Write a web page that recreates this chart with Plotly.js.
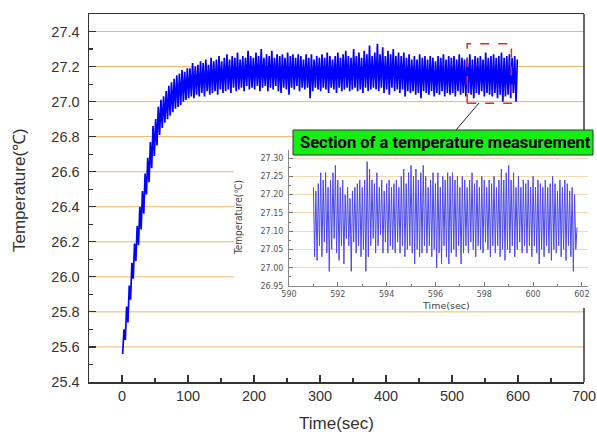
<!DOCTYPE html>
<html>
<head>
<meta charset="utf-8">
<script src="https://cdn.plot.ly/plotly-3.0.1.min.js"></script>
<style>html,body{margin:0;padding:0;background:#fff;}#chart{width:597px;height:432px;}</style>
</head>
<body>
<div id="chart"></div>
<script>
// ---- Main series: temperature every 2 s from t = 1 s ----
var mainStart = 1;
var mainStep = 2;
var mainTemp = [
  25.56, 25.70, 25.64, 25.83, 25.74, 25.95, 25.87, 26.08, 25.99, 26.19,
  26.09, 26.29, 26.18, 26.40, 26.27, 26.49, 26.36, 26.59, 26.47, 26.68,
  26.54, 26.77, 26.62, 26.86, 26.69, 26.90, 26.75, 26.97, 26.81, 27.01,
  26.85, 27.03, 26.88, 27.06, 26.90, 27.09, 26.92, 27.11, 26.94, 27.13,
  26.96, 27.15, 26.97, 27.16, 26.98, 27.18, 27.00, 27.17, 27.01, 27.19,
  27.02, 27.19, 27.03, 27.22, 27.02, 27.20, 27.04, 27.21, 27.03, 27.23,
  27.05, 27.22, 27.03, 27.24, 27.06, 27.21, 27.04, 27.25, 27.05, 27.23,
  27.06, 27.24, 27.04, 27.26, 27.07, 27.23, 27.05, 27.25, 27.06, 27.27,
  27.07, 27.24, 27.05, 27.26, 27.08, 27.25, 27.06, 27.28, 27.07, 27.24,
  27.08, 27.26, 27.06, 27.25, 27.09, 27.29, 27.07, 27.26, 27.08, 27.25,
  27.07, 27.28, 27.09, 27.26, 27.06, 27.30, 27.08, 27.25, 27.09, 27.27,
  27.06, 27.26, 27.08, 27.29, 27.07, 27.25, 27.09, 27.27, 27.06, 27.26,
  27.05, 27.27, 27.08, 27.25, 27.07, 27.28, 27.04, 27.26, 27.08, 27.27,
  27.07, 27.25, 27.09, 27.27, 27.06, 27.26, 27.08, 27.24, 27.07, 27.27,
  27.08, 27.25, 27.02, 27.27, 27.06, 27.24, 27.08, 27.26, 27.07, 27.25,
  27.06, 27.27, 27.08, 27.25, 27.07, 27.28, 27.05, 27.26, 27.08, 27.24,
  27.07, 27.26, 27.05, 27.28, 27.08, 27.25, 27.06, 27.27, 27.07, 27.29,
  27.08, 27.26, 27.06, 27.25, 27.07, 27.30, 27.08, 27.26, 27.06, 27.28,
  27.07, 27.25, 27.05, 27.29, 27.08, 27.27, 27.06, 27.32, 27.07, 27.26,
  27.08, 27.28, 27.07, 27.33, 27.06, 27.27, 27.08, 27.31, 27.05, 27.26,
  27.07, 27.29, 27.04, 27.27, 27.08, 27.30, 27.06, 27.26, 27.07, 27.28,
  27.05, 27.26, 27.07, 27.28, 27.03, 27.25, 27.06, 27.27, 27.05, 27.24,
  27.06, 27.26, 27.04, 27.24, 27.05, 27.27, 27.02, 27.25, 27.06, 27.26,
  27.05, 27.24, 27.04, 27.26, 27.06, 27.25, 27.03, 27.23, 27.05, 27.26,
  27.04, 27.25, 27.06, 27.27, 27.03, 27.24, 27.05, 27.26, 27.04, 27.25,
  27.05, 27.26, 27.03, 27.24, 27.06, 27.27, 27.04, 27.25, 27.05, 27.24,
  27.03, 27.25, 27.05, 27.27, 27.04, 27.24, 27.02, 27.26, 27.05, 27.25,
  27.04, 27.26, 27.06, 27.24, 27.03, 27.28, 27.05, 27.25, 27.04, 27.26,
  27.03, 27.27, 27.05, 27.25, 27.02, 27.26, 27.04, 27.28, 27.00, 27.25,
  27.03, 27.26, 27.04, 27.27, 27.02, 27.25, 27.05, 27.26, 27.00, 27.24
];

// ---- Inset series: section 591.00 – 601.80 s, every 0.05 s ----
var insetStart = 591.0;
var insetStep = 0.05;
var insetTemp = [
  27.22, 27.03, 27.21, 27.02, 27.23, 27.06, 27.26, 27.03, 27.24, 27.07, 27.26, 27.04, 27.22, 26.99, 27.24, 27.05, 27.26, 27.08, 27.28, 27.04,
  27.24, 27.02, 27.22, 27.06, 27.24, 27.01, 27.20, 27.08, 27.22, 27.06, 27.19, 26.99, 27.21, 27.07, 27.22, 27.04, 27.23, 27.06, 27.24, 27.03,
  27.22, 27.05, 27.24, 26.99, 27.29, 27.03, 27.27, 27.06, 27.24, 27.08, 27.23, 27.04, 27.26, 27.06, 27.22, 27.09, 27.24, 27.04, 27.21, 27.07,
  27.23, 27.04, 27.24, 27.06, 27.22, 27.05, 27.23, 27.04, 27.24, 27.07, 27.22, 27.04, 27.25, 27.06, 27.27, 27.03, 27.23, 27.05, 27.26, 27.06,
  27.28, 27.04, 27.25, 27.01, 27.27, 27.05, 27.24, 27.03, 27.26, 27.04, 27.28, 27.06, 27.25, 27.04, 27.22, 27.06, 27.24, 27.03, 27.26, 27.05,
  27.23, 27.00, 27.26, 27.04, 27.22, 27.01, 27.25, 27.06, 27.24, 27.03, 27.26, 27.01, 27.25, 27.04, 27.26, 27.05, 27.24, 27.03, 27.25, 27.06,
  27.22, 27.01, 27.25, 27.04, 27.24, 27.06, 27.22, 27.04, 27.24, 27.07, 27.26, 27.05, 27.23, 27.03, 27.24, 27.06, 27.22, 27.05, 27.25, 27.04,
  27.24, 27.07, 27.22, 27.05, 27.24, 27.03, 27.23, 27.06, 27.25, 27.04, 27.22, 27.06, 27.24, 27.03, 27.27, 27.05, 27.24, 27.02, 27.26, 27.05,
  27.28, 27.04, 27.24, 27.06, 27.26, 27.03, 27.22, 27.05, 27.25, 27.07, 27.22, 27.04, 27.24, 27.06, 27.23, 27.04, 27.24, 27.06, 27.22, 27.03,
  27.25, 27.06, 27.22, 27.04, 27.24, 27.01, 27.23, 27.05, 27.22, 27.03, 27.24, 27.06, 27.22, 27.04, 27.23, 27.02, 27.25, 27.05, 27.23, 27.04,
  27.21, 27.06, 27.24, 27.03, 27.22, 27.05, 27.24, 27.02, 27.23, 27.06, 27.21, 27.03, 27.22, 26.99, 27.20, 27.05, 27.11
];

// ---- Axis labels / grid levels ----
var mainGridLevels = [25.6, 25.8, 26.0, 26.2, 26.4, 26.6, 26.8, 27.0, 27.2, 27.4];
var calloutText = "Section of a temperature measurement";
var xTitle = "Time(sec)";
var yTitle = "Temperature(℃)";

var mainTime = mainTemp.map(function(_, i){ return mainStart + i * mainStep; });
var insetTime = insetTemp.map(function(_, i){ return +(insetStart + i * insetStep).toFixed(2); });

// ---- geometry (pixels in the 597x432 figure) ----
var W = 597, H = 432;
function px(x){ return x / W; }
function py(y){ return 1 - y / H; }
var M = {l: 89, r: 584, t: 14, b: 382};
var mainYRange = [25.4, 27.5];
var I = {l: 289, r: 588, t: 150, b: 286};
var whiteBox = {l: 234, t: 150, b: 308};

var tickFontMain = {family: "Liberation Sans, Arial, sans-serif", size: 14.5, color: "#333"};
var tickFontInset = {family: "DejaVu Sans, sans-serif", size: 8, color: "#555"};

var shapes = [];
mainGridLevels.forEach(function(v){
  var ypix = M.t + (mainYRange[1] - v) / (mainYRange[1] - mainYRange[0]) * (M.b - M.t);
  var x1 = (ypix > whiteBox.t && ypix < whiteBox.b) ? whiteBox.l : M.r;
  shapes.push({type: "line", xref: "paper", yref: "y", x0: px(M.l), x1: px(x1), y0: v, y1: v,
    line: {color: "#F4B466", width: 1}, layer: "below"});
});
shapes.push({type: "line", xref: "paper", yref: "paper", x0: px(M.r), x1: px(M.r), y0: py(M.t), y1: py(155),
  line: {color: "#333", width: 1.5}, layer: "below"});
shapes.push({type: "line", xref: "paper", yref: "paper", x0: px(M.r), x1: px(M.r), y0: py(whiteBox.b), y1: py(M.b),
  line: {color: "#333", width: 1.5}, layer: "below"});
shapes.push({type: "rect", xref: "x", yref: "y", x0: 523, x1: 590, y0: 26.99, y1: 27.33,
  line: {color: "#E8262A", width: 1.5, dash: "dash"}, fillcolor: "rgba(0,0,0,0)", layer: "above"});
shapes.push({type: "line", xref: "paper", yref: "paper", x0: px(479), y0: py(103), x1: px(456), y1: py(130),
  line: {color: "#222", width: 1}, layer: "above"});
shapes.push({type: "rect", xref: "paper", yref: "paper", x0: px(293), x1: px(593), y0: py(130), y1: py(155),
  line: {color: "#333", width: 1}, fillcolor: "#14F014", layer: "above"});

var traces = [
  {x: mainTime, y: mainTemp, xaxis: "x", yaxis: "y", type: "scatter", mode: "lines",
   line: {color: "#0000FF", width: 1.7, simplify: false}, hoverinfo: "skip"},
  {x: insetTime, y: insetTemp, xaxis: "x2", yaxis: "y2", type: "scatter", mode: "lines",
   line: {color: "#4B4BE6", width: 1, simplify: false}, hoverinfo: "skip"}
];

var layout = {
  width: W, height: H,
  margin: {l: 0, r: 0, t: 0, b: 0},
  paper_bgcolor: "#fff", plot_bgcolor: "#fff",
  showlegend: false,
  xaxis: {
    domain: [px(M.l), px(M.r)], anchor: "y", range: [-50, 700],
    tick0: 0, dtick: 100, ticks: "inside", ticklen: 7, tickwidth: 1.2, tickcolor: "#333",
    showline: true, linecolor: "#333", linewidth: 1.5, mirror: true,
    showgrid: false, zeroline: false, tickfont: tickFontMain, ticklabelstandoff: 0,
    minor: {dtick: 50, ticks: "inside", ticklen: 4, tickcolor: "#333", showgrid: false}
  },
  yaxis: {
    domain: [py(M.b), py(M.t)], anchor: "x", range: mainYRange,
    tick0: 25.4, dtick: 0.2, tickformat: ".1f", ticks: "inside", ticklen: 7, tickwidth: 1.2, tickcolor: "#333",
    showline: true, linecolor: "#333", linewidth: 1.5, mirror: false,
    showgrid: false, zeroline: false, tickfont: tickFontMain, ticklabelstandoff: 5,
    minor: {dtick: 0.1, ticks: "inside", ticklen: 4, tickcolor: "#333", showgrid: false}
  },
  xaxis2: {
    domain: [px(I.l), px(I.r)], anchor: "y2", range: [590, 602.25],
    tick0: 590, dtick: 2, ticks: "inside", ticklen: 4, tickcolor: "#777",
    showline: true, linecolor: "#888", linewidth: 1, mirror: false,
    showgrid: false, zeroline: false, tickfont: tickFontInset, ticklabelstandoff: 0,
    minor: {dtick: 1, ticks: "inside", ticklen: 2, tickcolor: "#777", showgrid: false}
  },
  yaxis2: {
    domain: [py(I.b), py(I.t)], anchor: "x2", range: [26.95, 27.322],
    tick0: 26.95, dtick: 0.05, tickformat: ".2f", ticks: "inside", ticklen: 4, tickcolor: "#777",
    showline: true, linecolor: "#888", linewidth: 1, mirror: false,
    showgrid: true, gridcolor: "#F7D9AE", gridwidth: 1, zeroline: false, tickfont: tickFontInset, ticklabelstandoff: 3,
    minor: {dtick: 0.025, ticks: "inside", ticklen: 2, tickcolor: "#777", showgrid: false}
  },
  shapes: shapes,
  annotations: [
    {text: yTitle, xref: "paper", yref: "paper", x: px(19), y: py(190), textangle: -90, showarrow: false,
     xanchor: "center", yanchor: "middle", font: {family: "Liberation Sans, Arial, sans-serif", size: 17, color: "#333"}},
    {text: xTitle, xref: "paper", yref: "paper", x: px(336), y: py(423), showarrow: false,
     xanchor: "center", yanchor: "middle", font: {family: "Liberation Sans, Arial, sans-serif", size: 17, color: "#333"}},
    {text: yTitle, xref: "paper", yref: "paper", x: px(239), y: py(217), textangle: -90, showarrow: false,
     xanchor: "center", yanchor: "middle", font: {family: "Liberation Sans Narrow, DejaVu Sans Condensed, Liberation Sans, sans-serif", size: 10, color: "#444"}},
    {text: xTitle, xref: "paper", yref: "paper", x: px(446), y: py(305), showarrow: false,
     xanchor: "center", yanchor: "middle", font: {family: "DejaVu Sans, sans-serif", size: 9.5, color: "#444"}},
    {text: calloutText, xref: "paper", yref: "paper", x: px(445), y: py(142.5), showarrow: false,
     xanchor: "center", yanchor: "middle", font: {family: "Roboto, Liberation Sans, sans-serif", size: 16.5, weight: "bold", color: "#000"}}
  ]
};

Plotly.newPlot("chart", traces, layout, {staticPlot: true, displayModeBar: false});
</script>
</body>
</html>
